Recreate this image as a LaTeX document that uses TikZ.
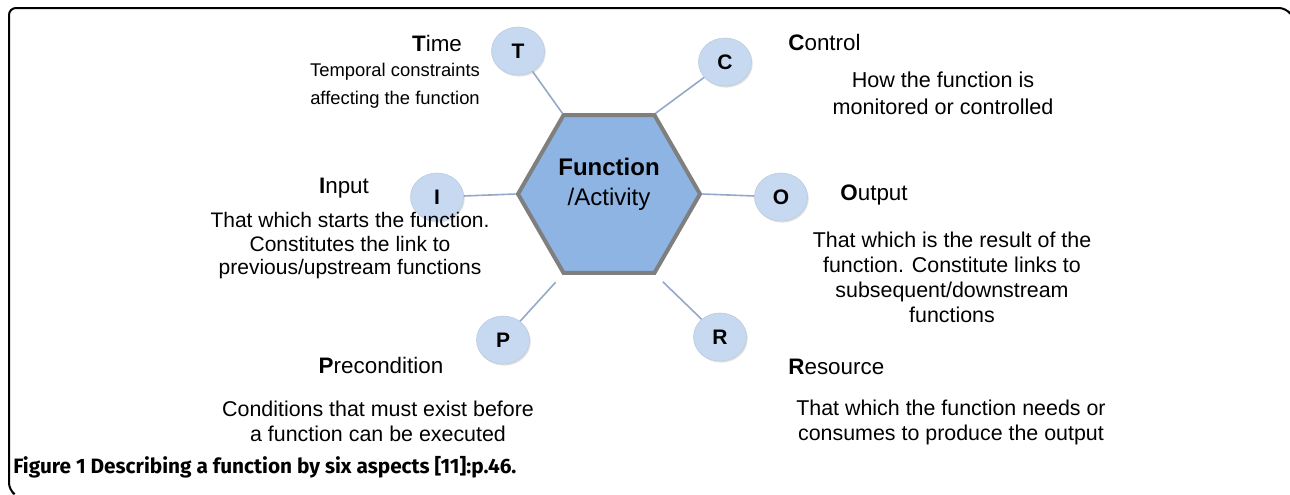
\documentclass[tikz,border=0pt]{standalone}
\usepackage{fontspec}
\setmainfont{Liberation Sans}
\newfontfamily\capfont{Fira Sans}
\usetikzlibrary{shapes.geometric,shadows}
\definecolor{hexblue}{HTML}{8DB4E2}
\definecolor{hexedge}{HTML}{7F7F7F}
\definecolor{circblue}{HTML}{C6D9F1}
\definecolor{linkblue}{HTML}{94A8C8}

\begin{document}
\begin{tikzpicture}[x=0.5pt,y=-0.5pt,
    aspect/.style={ellipse,fill=circblue,draw=circblue!85!gray,line width=0.3pt,
      minimum width=26.5pt,minimum height=24pt,inner sep=0pt,
      drop shadow={shadow xshift=0.6pt,shadow yshift=-0.8pt,opacity=0.25,fill=gray},
      font=\fontsize{10.5}{12}\selectfont\bfseries},
    link/.style={linkblue,line width=0.8pt},
    head/.style={inner sep=0pt,font=\fontsize{11.2}{13}\selectfont},
    desc/.style={inner sep=0pt,align=center,font=\fontsize{10.7}{12.5}\selectfont}]
  \useasboundingbox (0,0) rectangle (1290,494);
  % frame
  \draw[line width=1pt,rounded corners=3.5pt] (1289,12) -- (1286,8) -- (9,8) -- (9,490) -- (13,493);

  % function hexagon
  \node[regular polygon,regular polygon sides=6,minimum size=91pt,inner sep=0pt,
    fill=hexblue,draw=hexedge,line width=2pt] (fn) at (609,194) {};
  \node[align=center,inner sep=0pt,font=\fontsize{12}{15}\selectfont] (fnlabel) at (609,184)
    {\textbf{Function}\\/Activity};

  % the six aspects
  \node[aspect] (t) at (518,51) {T};
  \node[aspect] (c) at (725,62) {C};
  \node[aspect] (i) at (437,197) {I};
  \node[aspect] (o) at (781,197) {O};
  \node[aspect] (p) at (503,340) {P};
  \node[aspect] (r) at (720,337) {R};

  \draw[link] (t) -- (fn.120);
  \draw[link] (c) -- (fn.60);
  \draw[link] (i) -- (fn.180);
  \draw[link] (o) -- (fn.0);
  \draw[link,shorten >=5pt] (p) -- (fn.240);
  \draw[link,shorten >=5pt] (r) -- (fn.300);

  % labels
  \node[head] (timehd) at (437,43) {\textbf{T}ime};
  \node[desc,font=\fontsize{9.2}{14}\selectfont] (timetx) at (395,86)
    {Temporal constraints\\affecting the function};
  \node[head,anchor=west] (ctrlhd) at (788,42) {\textbf{C}ontrol};
  \node[desc,font=\fontsize{10.8}{13.5}\selectfont] (ctrltx) at (943,93)
    {How the function is\\monitored or controlled};
  \node[head] (inhd) at (344,188) {\textbf{I}nput};
  \node[desc,font=\fontsize{10.5}{11.75}\selectfont] (intx) at (350,246)
    {That which starts the function.\\Constitutes the link to\\previous/upstream functions};
  \node[head,anchor=west] (outhd) at (840,195) {\textbf{O}utput};
  \node[desc] (outtx) at (952,277)
    {That which is the result of the\\function. Constitute links to\\subsequent/downstream\\functions};
  \node[head] (prehd) at (381,365) {\textbf{P}recondition};
  \node[desc] (pretx) at (378,421)
    {Conditions that must exist before\\a function can be executed};
  \node[head,anchor=west] (reshd) at (788,367) {\textbf{R}esource};
  \node[desc] (restx) at (951,422)
    {That which the function needs or\\consumes to produce the output};

  \node[anchor=west,inner sep=0pt,font=\capfont\fontsize{10.4}{12}\selectfont\bfseries] (caption) at (13,467)
    {Figure 1 Describing a function by six aspects [11]:p.46.};
\end{tikzpicture}
\end{document}
